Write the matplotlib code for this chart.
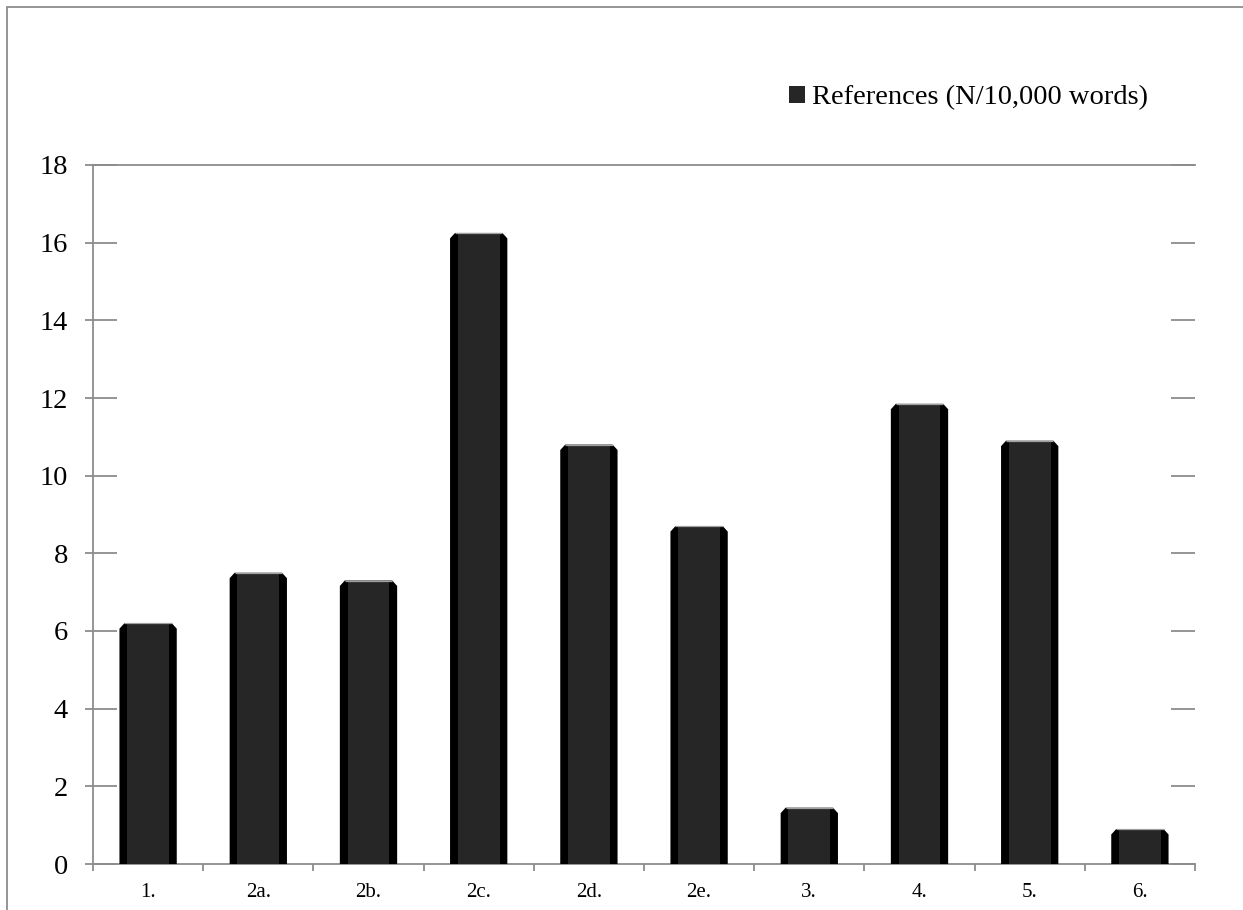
import matplotlib
matplotlib.use("Agg")
import matplotlib.pyplot as plt
from matplotlib.patches import Patch, Rectangle
from matplotlib.ticker import FixedLocator, NullFormatter
import numpy as np

categories = ["1.", "2a.", "2b.", "2c.", "2d.", "2e.", "3.", "4.", "5.", "6."]
references = [6.2, 7.5, 7.3, 16.25, 10.8, 8.7, 1.45, 11.85, 10.9, 0.9]
series_label = "References (N/10,000 words)"
y_ticks = [0, 2, 4, 6, 8, 10, 12, 14, 16, 18]

plt.rcParams["font.family"] = ["Liberation Serif", "DejaVu Serif"]

W, H = 1243, 910
fig = plt.figure(figsize=(W / 100, H / 100), dpi=100)
ax = fig.add_axes([93 / W, 1 - 864 / H, (1195 - 93) / W, (864 - 165) / H])

grey = "#8c8c8c"
fill_dark = "#262626"

x = np.arange(len(categories))
bar_w = 0.52
side = 0.07           # width of the dark side bands
cx, cy = 0.045, 0.14  # chamfer of the top corners (data units)

# outer black body with chamfered top corners
for xi, v in zip(x, references):
    x0, x1 = xi - bar_w / 2, xi + bar_w / 2
    ax.fill([x0, x0, x0 + cx, x1 - cx, x1, x1],
            [0, v - cy, v, v, v - cy, 0],
            color="black", lw=0, zorder=3)
# lighter face of each bar
ax.bar(x, references, width=bar_w - 2 * side, color=fill_dark, lw=0, zorder=4)
# thin highlight along each top
ax.hlines(references, x - bar_w / 2 + cx, x + bar_w / 2 - cx,
          color="#a0a0a0", lw=0.9, zorder=5)

ax.set_xlim(-0.5, len(categories) - 0.5)
ax.set_ylim(0, 18)

# y axis: long inward ticks both sides, short outward ticks on the left
ax.set_yticks(y_ticks)
ax.yaxis.set_minor_locator(FixedLocator(y_ticks))
ax.yaxis.remove_overlapping_locs = False
ax.tick_params(axis="y", which="major", direction="in", length=17, width=1.3,
               color=grey, left=True, right=True, labelsize=20.5, pad=18,
               labelcolor="black")
ax.tick_params(axis="y", which="minor", direction="out", length=5.8, width=1.3,
               color=grey, left=True, right=False)
ax.yaxis.set_minor_formatter(NullFormatter())

# x axis: ticks at category boundaries, labels centred under the bars
ax.xaxis.set_major_locator(FixedLocator(np.arange(-0.5, len(categories), 1.0)))
ax.xaxis.set_major_formatter(NullFormatter())
ax.xaxis.set_minor_locator(FixedLocator(x))
ax.set_xticklabels(categories, minor=True)
ax.tick_params(axis="x", which="major", direction="out", length=5, width=1.3,
               color=grey)
ax.tick_params(axis="x", which="minor", length=0, labelsize=15, pad=14)

for s in ("left", "bottom", "top"):
    ax.spines[s].set_color(grey)
    ax.spines[s].set_linewidth(1.3)
ax.spines["right"].set_visible(False)

ax.legend(handles=[Patch(facecolor=fill_dark, edgecolor="none")],
          labels=[series_label], loc="center left",
          bbox_to_anchor=(789 / W, 1 - 98 / H), bbox_transform=fig.transFigure,
          frameon=False, fontsize=20.5, handlelength=0.55, handleheight=0.55,
          handletextpad=0.25, borderpad=0, borderaxespad=0)

# chart frame
fig.add_artist(Rectangle((7 / W, -0.1), 1.2, 1.1 - 7 / H,
                         transform=fig.transFigure, fill=False,
                         edgecolor=grey, lw=1.3))

fig.savefig("out.png", dpi=100)
